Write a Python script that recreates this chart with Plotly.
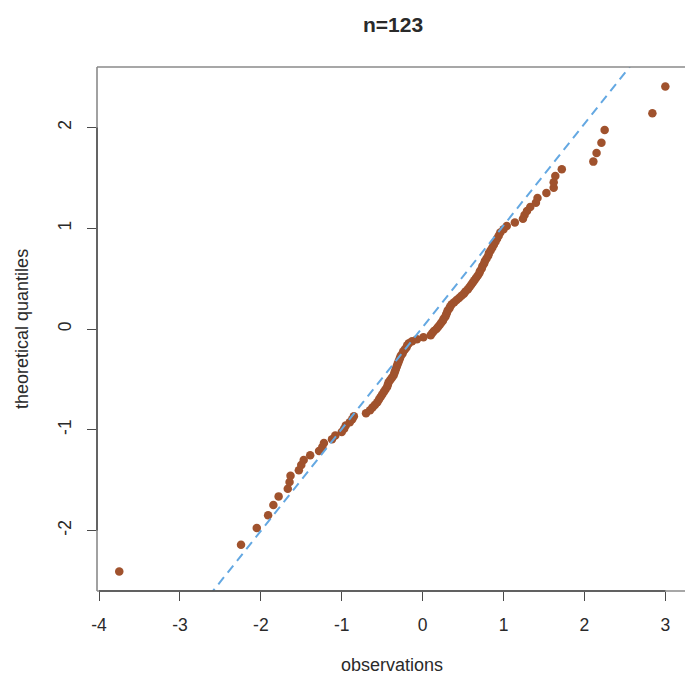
import plotly.graph_objects as go

# Sorted sample (horizontal) against normal scores (vertical)
observations = [
    -3.75, -2.245, -2.05, -1.91, -1.845, -1.78, -1.667, -1.645, -1.633, -1.53,
    -1.50, -1.47, -1.39, -1.28, -1.24, -1.22, -1.12, -1.08, -1.00, -0.97,
    -0.95, -0.90, -0.87, -0.85, -0.70, -0.65, -0.62, -0.59, -0.56, -0.54,
    -0.52, -0.50, -0.48, -0.46, -0.44, -0.43, -0.42, -0.40, -0.38, -0.36,
    -0.35, -0.34, -0.33, -0.32, -0.31, -0.30, -0.29, -0.28, -0.27, -0.25,
    -0.24, -0.22, -0.20, -0.19, -0.17, -0.13, -0.07, 0.01,
    0.10, 0.12, 0.14, 0.17, 0.19, 0.21, 0.23, 0.25, 0.26, 0.28,
    0.29, 0.30, 0.31, 0.33, 0.34, 0.36, 0.39, 0.42, 0.45, 0.48,
    0.51, 0.53, 0.56, 0.58, 0.60, 0.62, 0.64, 0.66, 0.68, 0.70,
    0.71, 0.73, 0.74, 0.76, 0.77, 0.79, 0.81, 0.82, 0.84, 0.86,
    0.88, 0.90, 0.92, 0.94, 0.96, 1.00, 1.04,
    1.14, 1.24, 1.26, 1.29, 1.33, 1.40, 1.42, 1.53, 1.62, 1.62,
    1.64, 1.72, 2.11, 2.15, 2.21, 2.25, 2.84, 3.00,
]

theoretical = [
    -2.407, -2.141, -1.974, -1.848, -1.747, -1.661, -1.585, -1.518, -1.457, -1.401,
    -1.349, -1.300, -1.254, -1.211, -1.170, -1.131, -1.093, -1.057, -1.023, -0.989,
    -0.957, -0.925, -0.895, -0.865, -0.836, -0.807, -0.780, -0.753, -0.726, -0.700,
    -0.674, -0.649, -0.624, -0.600, -0.576, -0.553, -0.529, -0.506, -0.483, -0.461,
    -0.438, -0.416, -0.394, -0.372, -0.351, -0.329, -0.308, -0.287, -0.266, -0.245,
    -0.224, -0.203, -0.183, -0.162, -0.142, -0.121, -0.101, -0.081, -0.061, -0.040,
    -0.020, 0.000, 0.020, 0.040, 0.061, 0.081, 0.101, 0.121, 0.142, 0.162,
    0.183, 0.203, 0.224, 0.245, 0.266, 0.287, 0.308, 0.329, 0.351, 0.372,
    0.394, 0.416, 0.438, 0.461, 0.483, 0.506, 0.529, 0.553, 0.576, 0.600,
    0.624, 0.649, 0.674, 0.700, 0.726, 0.753, 0.780, 0.807, 0.836, 0.865,
    0.895, 0.925, 0.957, 0.989, 1.023, 1.057, 1.093, 1.131, 1.170, 1.211,
    1.254, 1.300, 1.349, 1.401, 1.457, 1.518, 1.585, 1.661, 1.747, 1.848,
    1.974, 2.141, 2.407,
]

x_ticks = [-4, -3, -2, -1, 0, 1, 2, 3]
y_ticks = [-2, -1, 0, 1, 2]
x_tick_labels = ["-4", "-3", "-2", "-1", "0", "1", "2", "3"]
y_tick_labels = ["-2", "-1", "0", "1", "2"]

# reference line y = slope * x + intercept
line_slope = 1.01
line_intercept = 0.017

assert len(observations) == len(theoretical)

x_range = [-4.025, 3.243]
y_range = [-2.6, 2.6]

FONT = "Liberation Sans, Arial, Helvetica, sans-serif"
POINT_COLOR = "#A0522D"
LINE_COLOR = "#64A8E2"
BOX_COLOR = "#8a8a8a"
AXIS_COLOR = "#4a4a4a"
TEXT_COLOR = "#2a2a2a"

fig = go.Figure()

fig.add_trace(go.Scatter(
    x=observations, y=theoretical, mode="markers",
    marker=dict(color=POINT_COLOR, size=8.5, line=dict(width=0)),
    hoverinfo="x+y", showlegend=False,
))

line_x = x_range
line_y = [line_slope * v + line_intercept for v in line_x]
fig.add_trace(go.Scatter(
    x=line_x, y=line_y, mode="lines",
    line=dict(color=LINE_COLOR, width=2, dash="9px,6px"),
    hoverinfo="skip", showlegend=False,
))

axis_common = dict(
    showgrid=False, zeroline=False, showline=False,
    ticks="outside", ticklen=9, tickwidth=1.2, tickcolor=AXIS_COLOR,
    tickfont=dict(family=FONT, size=17.5, color=TEXT_COLOR),
    fixedrange=True,
)

fig.update_layout(
    width=685, height=677,
    margin=dict(l=97, r=0, t=67, b=86, autoexpand=False),
    plot_bgcolor="white", paper_bgcolor="white",
    xaxis=dict(range=x_range, tickvals=x_ticks, ticktext=x_tick_labels,
               ticklabelstandoff=9, **axis_common),
    yaxis=dict(range=y_range, tickvals=y_ticks, ticktext=y_tick_labels, tickangle=-90,
               ticklabelstandoff=9, **axis_common),
    shapes=[
        # plot frame (top, left, bottom)
        dict(type="line", xref="paper", yref="paper", x0=0, x1=1, y0=1, y1=1,
             line=dict(color=BOX_COLOR, width=1.6)),
        dict(type="line", xref="paper", yref="paper", x0=0, x1=0, y0=0, y1=1,
             line=dict(color=BOX_COLOR, width=1.6)),
        dict(type="line", xref="paper", yref="paper", x0=0, x1=1, y0=0, y1=0,
             line=dict(color=BOX_COLOR, width=1.6)),
        # axis lines spanning the ticks
        dict(type="line", xref="x", yref="paper", x0=x_ticks[0], x1=x_ticks[-1], y0=0, y1=0,
             line=dict(color=AXIS_COLOR, width=1.4)),
        dict(type="line", xref="paper", yref="y", x0=0, x1=0, y0=y_ticks[0], y1=y_ticks[-1],
             line=dict(color=AXIS_COLOR, width=1.4)),
    ],
    annotations=[
        dict(text="<b>n=123</b>", xref="paper", yref="paper", x=0.503, y=1.082,
             xanchor="center", yanchor="middle", showarrow=False,
             font=dict(family=FONT, size=21, color=TEXT_COLOR)),
        dict(text="observations", xref="paper", yref="paper", x=0.502, y=-0.141,
             xanchor="center", yanchor="middle", showarrow=False,
             font=dict(family=FONT, size=18, color=TEXT_COLOR)),
        dict(text="theoretical quantiles", xref="paper", yref="paper", x=-0.1276, y=0.5,
             xanchor="center", yanchor="middle", textangle=-90, showarrow=False,
             font=dict(family=FONT, size=18, color=TEXT_COLOR)),
    ],
)

fig.write_html("out.html")
